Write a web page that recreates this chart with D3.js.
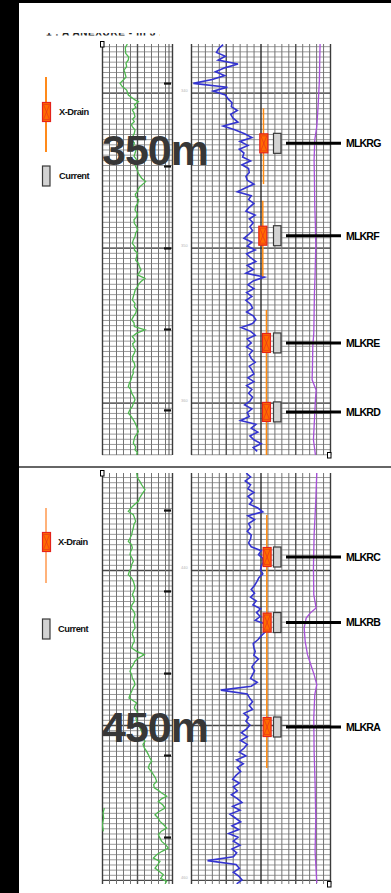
<!DOCTYPE html>
<html>
<head>
<meta charset="utf-8">
<script src="https://cdn.jsdelivr.net/npm/d3@7"></script>
<style>
  body { margin: 0; background: #fff; }
  svg { display: block; }
</style>
</head>
<body>
<svg id="chart" width="391" height="893"></svg>
<script>
var panelNames = ['upper', 'lower'];
var depthLabels = ['350m', '450m'];
var upperDepth = [336.86, 363.38];   // metres shown in the top section
var lowerDepth = [433.74, 460.26];   // metres shown in the bottom section
var grDomain = [0, 210];             // track 1 (green)
var logDomain = [0, 420];            // track 2 (blue / purple)

var upperGreen = [
  [336.86,76],[337.10,70],[337.46,71],[337.70,80],[337.89,79],[338.10,72],[338.32,74],[338.55,66],[338.75,69],[339.00,72],[339.18,64],[339.40,54],[339.61,61],[339.83,74],[340.15,79],
  [340.47,99],[340.58,109],[340.79,97],[340.95,102],[341.12,91],[341.30,96],[341.55,99],[341.70,92],[341.87,97],[342.05,88],[342.19,91],[342.40,99],[342.62,97],[342.85,92],[343.05,89],[343.25,97],[343.48,94],
  [343.70,102],[343.91,99],[344.10,96],[344.34,104],[344.55,98],[344.77,101],[345.00,106],[345.20,109],[345.52,119],[345.74,131],[346.06,114],[346.20,109],[346.38,107],[346.55,100],[346.71,101],[346.90,110],[347.14,107],
  [347.35,101],[347.57,99],[347.80,106],[348.00,104],[348.20,96],[348.43,97],[348.65,104],[348.86,107],[349.05,101],[349.29,99],[349.50,94],[349.72,91],[349.95,99],[350.15,97],[350.35,106],[350.58,104],[350.80,101],[351.01,109],[351.20,112],[351.44,117],
  [351.76,107],[351.98,129],[352.19,117],[352.35,110],[352.51,107],[352.70,100],[352.94,97],[353.15,94],[353.37,91],[353.60,99],[353.80,97],[354.00,104],[354.23,101],[354.45,94],[354.66,89],[354.85,96],[355.09,97],
  [355.31,129],[355.52,104],[355.74,91],[355.90,97],[356.06,99],[356.20,92],[356.38,94],[356.60,100],[356.81,97],[357.00,92],[357.24,91],[357.45,97],[357.67,99],[357.90,93],[358.10,94],[358.30,90],[358.53,87],
  [358.75,82],[358.96,79],[359.15,86],[359.39,89],[359.60,95],[359.82,99],[360.05,94],[360.25,91],[360.45,84],[360.68,79],[360.90,88],[361.11,94],[361.30,99],[361.54,104],[361.87,109],[362.05,104],[362.19,99],[362.40,96],[362.62,94],
  [362.85,101],[363.05,99],[363.20,106],[363.38,104]
];
var lowerGreen = [
  [433.74,104],[434.07,107],[434.30,114],[434.50,119],[434.82,129],[435.14,119],[435.35,113],[435.57,109],[435.80,96],[436.00,87],[436.22,79],[436.43,94],[436.65,98],[436.86,101],
  [437.05,96],[437.29,94],[437.50,91],[437.72,89],[437.95,84],[438.15,79],[438.35,88],[438.58,91],[438.80,86],[439.01,84],[439.22,90],[439.44,94],[439.65,89],[439.87,87],[440.10,82],[440.30,79],[440.50,88],[440.73,94],[440.95,97],[441.16,99],
  [441.40,95],[441.59,91],[441.80,96],[442.02,97],[442.25,90],[442.45,87],[442.65,95],[442.88,99],[443.10,96],[443.31,94],[443.50,98],[443.74,99],[443.95,93],[444.17,91],[444.40,96],[444.60,97],[444.80,92],[445.03,89],[445.25,104],
  [445.46,127],[445.68,109],[445.90,98],[446.11,94],[446.30,88],[446.54,84],[446.75,89],[446.97,91],[447.20,97],[447.40,99],[447.60,93],[447.83,89],[448.05,84],[448.26,81],[448.58,104],[448.75,99],[448.90,97],
  [449.10,104],[449.33,109],[449.55,102],[449.76,104],[450.00,110],[450.19,114],[450.40,119],[450.62,124],[450.85,121],[451.05,129],[451.25,123],[451.48,127],[451.70,134],[451.91,139],[452.10,143],[452.34,149],[452.55,142],[452.77,139],[453.00,148],[453.20,154],
  [453.40,160],[453.63,164],[453.85,155],[454.06,157],[454.20,168],[454.39,179],[454.60,194],[454.75,180],[454.93,169],[455.15,182],[455.36,189],[455.60,170],[455.79,159],[456.00,168],[456.22,174],[456.45,186],[456.65,194],[456.85,178],[457.08,169],
  [457.30,174],[457.51,179],[457.75,192],[457.94,199],[458.15,180],[458.37,164],[458.58,154],[458.80,174],[459.00,168],[459.23,159],[459.45,172],[459.66,184],[459.90,176],[460.09,194],[460.26,189]
];
var lowerGreenWrap = [[455.36,7],[455.68,3],[456.00,5],[456.43,1],[456.86,4]];

// blue curve, one reading every 0.25 m
var blueStep = 0.25;
var upperBlueStart = 336.9;
var upperBlue = [
  97, 84, 77, 104, 82, 142, 102, 74, 102, 64,
  7, 110, 67, 104, 112, 124, 122, 140, 120, 127,
  142, 97, 132, 162, 184, 148, 172, 146, 160, 156,
  180, 154, 174, 176, 166, 170, 190, 164, 140, 182,
  174, 190, 176, 166, 194, 176, 188, 178, 186, 174,
  160, 184, 170, 194, 168, 180, 196, 170, 188, 166,
  222, 188, 172, 190, 168, 184, 166, 180, 186, 168,
  188, 196, 186, 152, 180, 194, 170, 182, 168, 186,
  176, 182, 194, 176, 184, 190, 172, 190, 168, 184,
  174, 186, 178, 162, 184, 170, 176, 150, 196, 182,
  202, 178, 190, 212, 188, 200
];
var lowerBlueStart = 433.75;
var lowerBlue = [
  167, 180, 164, 180, 172, 190, 172, 186, 177, 202,
  217, 172, 192, 174, 180, 170, 182, 180, 174, 182,
  212, 204, 217, 218, 212, 210, 217, 205, 199, 192,
  182, 192, 180, 197, 187, 210, 198, 209, 194, 227,
  240, 224, 212, 202, 188, 190, 194, 190, 204, 192,
  184, 192, 186, 180, 200, 182, 90, 170, 177, 186,
  176, 186, 160, 174, 166, 178, 168, 152, 170, 150,
  170, 160, 146, 166, 138, 158, 140, 150, 136, 126,
  146, 128, 140, 122, 140, 154, 126, 148, 118, 134,
  150, 124, 144, 114, 142, 128, 148, 124, 138, 128,
  50, 136, 146, 128, 144, 154, 138
];

var upperPurple = [
  [336.86,390],[337.89,389],[339.18,388],[340.90,384],[342.19,380],[343.05,374],[344.34,372],[345.63,373],
  [347.35,374],[348.64,376],[349.93,377],[351.65,375],[352.94,373],[354.23,372],[355.52,371],[356.38,368],
  [357.67,367],[358.53,366],[359.18,378],[359.82,376],[361.11,373],[362.40,370],[363.38,376]
];
var lowerPurple = [
  [433.74,380],[435.57,377],[437.72,372],[439.87,370],[441.59,371],[442.45,378],[442.78,360],[443.10,348],
  [443.74,342],[444.60,345],[445.46,352],[446.11,362],[446.75,372],[447.40,380],[448.04,374],[449.55,371],
  [451.70,372],[453.85,375],[456.00,377],[458.15,375],[460.19,380]
];

// X-Drain runs: [from depth, to depth, track-2 position]
var upperDrainRuns = [[341.01, 345.90, 219], [346.97, 351.87, 217], [354.02, 363.38, 228]];
var lowerDrainRuns = [[436.45, 452.77, 229]];

var upperMarkerNames = ['MLKRG', 'MLKRF', 'MLKRE', 'MLKRD'];
var upperMarkerDepths = [343.27, 349.23, 356.15, 360.6];
var upperDrainPos = [220, 217, 228, 228];
var lowerMarkerNames = ['MLKRC', 'MLKRB', 'MLKRA'];
var lowerMarkerDepths = [439.16, 443.39, 450.13];
var lowerDrainPos = [230, 230, 230];

var upperTicks = [339.38, 344.73, 350.02, 355.25, 360.47];
var lowerTicks = [436.13, 441.35, 446.65, 451.94, 457.23];

var legendNames = ['X-Drain', 'Current'];

// ---- drawing ----
var W = 391, H = 893;
var FONT = '"Liberation Sans", Arial, sans-serif';
var svg = d3.select('#chart');
var defs = svg.append('defs');

svg.append('rect').attr('width', W).attr('height', H).attr('fill', '#fff');

var x1 = d3.scaleLinear().domain(grDomain).range([102, 172]);
var x2 = d3.scaleLinear().domain(logDomain).range([191, 330]);

function blueSeries(start, vals) {
  return vals.map(function(v, i) { return [start + i * blueStep, v]; });
}

var panels = [
  { name: 'upper', depth: upperDepth, top: 44, bottom: 455, label: depthLabels[0], labelY: 165,
    green: [upperGreen], blue: blueSeries(upperBlueStart, upperBlue), purple: upperPurple,
    runs: upperDrainRuns, names: upperMarkerNames, mdepth: upperMarkerDepths, mpos: upperDrainPos,
    ticks: upperTicks, legend: { line: [77, 152], drain: 102, cur: 166, lineColor: '#ff8a1a', tx: 59 } },
  { name: 'lower', depth: lowerDepth, top: 473, bottom: 884, label: depthLabels[1], labelY: 742,
    green: [lowerGreen, lowerGreenWrap], blue: blueSeries(lowerBlueStart, lowerBlue), purple: lowerPurple,
    runs: lowerDrainRuns, names: lowerMarkerNames, mdepth: lowerMarkerDepths, mpos: lowerDrainPos,
    ticks: lowerTicks, legend: { line: [508, 583], drain: 532, cur: 619, lineColor: '#ffb27a', tx: 58 } }
];

function drawDrain(g, cx, cy) {
  var w = 8, h = 19;
  g.append('rect').attr('x', cx - w / 2).attr('y', cy - h / 2).attr('width', w).attr('height', h)
    .attr('fill', '#ff6a00').attr('stroke', '#e3231b').attr('stroke-width', 1.2);
  g.append('path')
    .attr('d', 'M' + (cx - w / 2 + 1) + ',' + (cy - h / 2 + 2) + 'L' + (cx + w / 2 - 1) + ',' + (cy + h / 2 - 2) +
      'M' + (cx + w / 2 - 1) + ',' + (cy - h / 2 + 2) + 'L' + (cx - w / 2 + 1) + ',' + (cy + h / 2 - 2) +
      'M' + (cx - w / 2 + 1) + ',' + (cy - h / 2 + 2) + 'L' + (cx + w / 2 - 1) + ',' + (cy - h / 2 + 2) +
      'M' + (cx - w / 2 + 1) + ',' + (cy + h / 2 - 2) + 'L' + (cx + w / 2 - 1) + ',' + (cy + h / 2 - 2))
    .attr('stroke', '#e8351a').attr('stroke-width', 0.7).attr('fill', 'none');
}

function drawCurrent(g, x, cy) {
  g.append('rect').attr('x', x).attr('y', cy - 10).attr('width', 7.5).attr('height', 20)
    .attr('fill', '#d3d3d3').attr('stroke', '#3a3a3a').attr('stroke-width', 1.2);
}

panels.forEach(function(p, pi) {
  var y = d3.scaleLinear().domain(p.depth).range([p.top, p.bottom]);
  var g = svg.append('g').attr('class', 'panel-' + p.name);
  var hgt = p.bottom - p.top;

  var minor = d3.range(Math.ceil(p.depth[0] * 3) / 3, p.depth[1], 1 / 3);
  var heavy = d3.range(Math.ceil(p.depth[0] / 10) * 10, p.depth[1], 10);

  var tracks = [
    { x: x1, grid: d3.range(0, 211, 21), heavyEvery: 105 },
    { x: x2, grid: d3.range(0, 421, 21), heavyEvery: 105 }
  ];

  tracks.forEach(function(t, ti) {
    var r = t.x.range();
    var tg = g.append('g');
    // minor depth lines
    tg.append('g').attr('transform', 'translate(' + r[0] + ',0)')
      .call(d3.axisLeft(y).tickValues(minor).tickSize(-(r[1] - r[0])).tickFormat(''))
      .call(function(s) { s.select('.domain').remove(); })
      .selectAll('line').attr('stroke', '#8e8e8e').attr('stroke-width', 0.9);
    // heavy depth lines
    tg.append('g').attr('transform', 'translate(' + r[0] + ',0)')
      .call(d3.axisLeft(y).tickValues(heavy).tickSize(-(r[1] - r[0])).tickFormat(''))
      .call(function(s) { s.select('.domain').remove(); })
      .selectAll('line').attr('stroke', '#4a4a4a').attr('stroke-width', 1.3);
    // vertical grid
    tg.append('g').attr('transform', 'translate(0,' + p.top + ')')
      .call(d3.axisTop(t.x).tickValues(t.grid).tickSize(-hgt).tickFormat(''))
      .call(function(s) { s.select('.domain').remove(); })
      .selectAll('line')
      .attr('stroke', function(d) {
        if (d === t.x.domain()[0] || d === t.x.domain()[1]) return '#3c3c3c';
        if (ti === 1 && d === 210) return '#2c2c2c';
        return d % t.heavyEvery === 0 ? '#4e4e4e' : '#737373';
      })
      .attr('stroke-width', function(d) {
        return (d % t.heavyEvery === 0) ? 1.4 : 1;
      });
    if (ti === 0) {
      tg.append('line').attr('x1', x1(201)).attr('x2', x1(201)).attr('y1', p.top).attr('y2', p.bottom)
        .attr('stroke', '#555').attr('stroke-width', 1);
    }
    defs.append('clipPath').attr('id', 'clip-' + p.name + '-' + ti)
      .append('rect').attr('x', r[0]).attr('y', p.top).attr('width', r[1] - r[0]).attr('height', hgt);
  });

  // depth ticks on the right edge of track 1
  g.append('g').attr('transform', 'translate(171,0)')
    .call(d3.axisLeft(y).tickValues(p.ticks).tickSize(7).tickFormat(''))
    .call(function(s) { s.select('.domain').remove(); })
    .selectAll('line').attr('stroke', '#111').attr('stroke-width', 2.2);

  // faint depth numbers in the depth column (the big label hides the one behind it)
  var shown = heavy.filter(function(d) { return Math.abs(y(d) - (p.labelY - 15)) > 22; });
  g.selectAll('text.dnum').data(shown).enter().append('text')
    .attr('class', 'dnum').attr('x', 181).attr('y', function(d) { return y(d) - 1; })
    .attr('font-family', FONT).attr('font-size', 4).attr('fill', '#b5b5b5')
    .text(function(d) { return d; });

  // curves
  var line1 = d3.line().x(function(d) { return x1(d[1]); }).y(function(d) { return y(d[0]); });
  var line2 = d3.line().x(function(d) { return x2(d[1]); }).y(function(d) { return y(d[0]); });

  var c1 = g.append('g').attr('clip-path', 'url(#clip-' + p.name + '-0)');
  p.green.forEach(function(s) {
    c1.append('path').datum(s).attr('d', line1)
      .attr('fill', 'none').attr('stroke', '#4fb84f').attr('stroke-width', 1.3);
  });
  var c2 = g.append('g').attr('clip-path', 'url(#clip-' + p.name + '-1)');
  c2.append('path').datum(p.purple).attr('d', line2)
    .attr('fill', 'none').attr('stroke', '#a650d8').attr('stroke-width', 1.3);
  c2.append('path').datum(p.blue).attr('d', line2)
    .attr('fill', 'none').attr('stroke', '#3434d0').attr('stroke-width', 1.6);

  // X-Drain runs
  g.selectAll('line.run').data(p.runs).enter().append('line')
    .attr('class', 'run')
    .attr('x1', function(d) { return x2(d[2]); }).attr('x2', function(d) { return x2(d[2]); })
    .attr('y1', function(d) { return y(d[0]); }).attr('y2', function(d) { return y(d[1]); })
    .attr('stroke', '#ff8a10').attr('stroke-width', 1.5);

  // formation markers
  p.names.forEach(function(nm, i) {
    var cy = y(p.mdepth[i]);
    drawDrain(g, x2(p.mpos[i]), cy);
    drawCurrent(g, 273.5, cy);
    g.append('line').attr('x1', 286).attr('x2', 341).attr('y1', cy).attr('y2', cy)
      .attr('stroke', '#000').attr('stroke-width', 3);
    g.append('text').attr('x', 346).attr('y', cy + 3.8)
      .attr('font-family', FONT).attr('font-weight', 'bold').attr('font-size', 10.5)
      .attr('letter-spacing', -0.8).attr('fill', '#000').text(nm);
  });

  // small corner boxes
  [[100.5, p.top - 2.5], [327.5, p.bottom - 2.5]].forEach(function(c) {
    g.append('rect').attr('x', c[0]).attr('y', c[1]).attr('width', 3.5).attr('height', 5.5)
      .attr('fill', '#fff').attr('stroke', '#000').attr('stroke-width', 1);
  });

  // big section label
  g.append('text').attr('x', 102).attr('y', p.labelY)
    .attr('font-family', FONT).attr('font-weight', 'bold').attr('font-size', 43)
    .attr('letter-spacing', -1).attr('fill', '#373737').text(p.label);

  // legend
  var L = p.legend;
  g.append('line').attr('x1', 46).attr('x2', 46).attr('y1', L.line[0]).attr('y2', L.line[1])
    .attr('stroke', L.lineColor).attr('stroke-width', 2);
  drawDrain(g, 46.5, L.drain + 10);
  drawCurrent(g, 42.5, L.cur + 10);
  [L.drain + 10, L.cur + 10].forEach(function(ty, k) {
    g.append('text').attr('x', L.tx).attr('y', ty + 3.3)
      .attr('font-family', FONT).attr('font-weight', 'bold').attr('font-size', 9.3)
      .attr('letter-spacing', -0.5).attr('fill', '#111').text(legendNames[k]);
  });
});

// page frame
svg.append('rect').attr('x', 0).attr('y', 0).attr('width', 19).attr('height', H).attr('fill', '#000');
svg.append('rect').attr('x', 0).attr('y', 0).attr('width', W).attr('height', 3).attr('fill', '#000');
svg.append('line').attr('x1', 19).attr('x2', W).attr('y1', 467).attr('y2', 467)
  .attr('stroke', '#333').attr('stroke-width', 1.5);

// cut-off header text: only the foot of the letters is left on the page
defs.append('clipPath').attr('id', 'clip-head')
  .append('rect').attr('x', 40).attr('y', 33).attr('width', 120).attr('height', 2.5);
svg.append('text').attr('clip-path', 'url(#clip-head)')
  .attr('x', 46).attr('y', 35.5)
  .attr('font-family', FONT).attr('font-size', 10).attr('font-weight', 'bold').attr('fill', '#222')
  .attr('letter-spacing', 0.6)
  .text('1 . A ANEXURE - III 3 . 0 . 4 . 0 0');
</script>
</body>
</html>
